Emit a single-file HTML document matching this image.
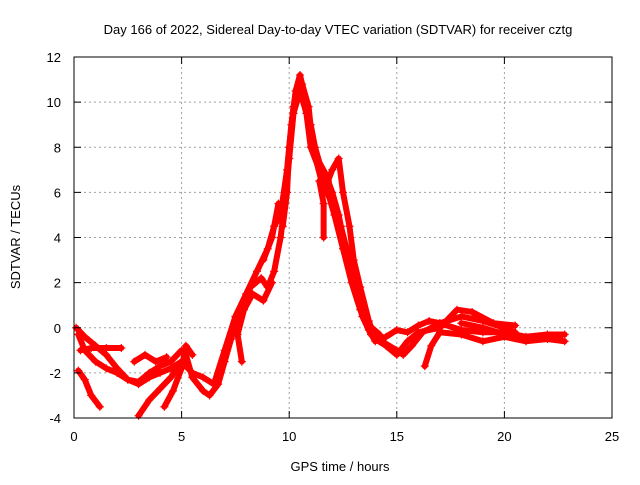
<!DOCTYPE html>
<html><head><meta charset="utf-8"><style>
body{margin:0;background:#fff;font-family:"Liberation Sans",sans-serif;}
svg text{font-family:"Liberation Sans",sans-serif;font-size:13px;fill:#000;}
</style></head><body>
<svg id="chart" width="640" height="480" viewBox="0 0 640 480">
<rect width="640" height="480" fill="#fff"/>
<text x="338" y="34" text-anchor="middle">Day 166 of 2022, Sidereal Day-to-day VTEC variation (SDTVAR) for receiver cztg</text>
<g id="grid"></g>
<g id="series"></g>
<rect x="74" y="57" width="538" height="361" fill="none" stroke="#000" stroke-width="1"/>
<g id="ticks"></g>
<text x="340" y="471" text-anchor="middle">GPS time / hours</text>
<text x="20" y="237" text-anchor="middle" transform="rotate(-90 20 237)">SDTVAR / TECUs</text>
</svg>
<script>
const xTicks=[0,5,10,15,20,25];
const yTicks=[-4,-2,0,2,4,6,8,10,12];
const trackA=[[0.2,-0.3],[0.5,-1],[1,-1.5],[1.5,-1.8],[2,-2],[2.5,-2.3],[3,-2.5],[3.5,-2.2],[4,-2],[4.5,-1.8],[5,-1.5],[5.5,-2],[6,-2.2],[6.5,-2.5],[7,-1],[7.5,0.5],[8,1.5],[8.5,2.5],[9,3.5],[9.3,4.5],[9.6,5],[9.9,7],[10.1,9],[10.3,10.5],[10.5,11.2],[10.8,10],[11,8.5],[11.3,7.5],[11.7,6.8],[12,6],[12.3,5],[12.6,3.5],[13,2],[13.4,0.5],[13.8,-0.3],[14.3,-0.6],[15,-1],[15.3,-1.2],[15.7,-0.8],[16.2,-0.2],[17,0.2],[18,0.5],[19,0.3],[20,0],[20.5,-0.2]];
const trackB=[[0.1,0],[0.5,-0.4],[1,-0.8],[1.5,-1.2],[2,-1.8],[2.5,-2.3],[3,-2.4],[3.5,-2],[4,-1.7],[4.5,-1.5],[5,-1],[5.2,-1.2],[5.5,-2.2],[6,-2.8],[6.3,-3],[6.7,-2.5],[7,-1.5],[7.3,-0.5],[7.7,0.8],[8.2,1.8],[8.7,2.2],[9,1.8],[9.3,2.5],[9.6,4],[9.8,5.5],[10,7.5],[10.2,9.5],[10.5,10.5],[10.8,9.5],[11,8],[11.4,7],[11.8,6],[12.1,5],[12.5,3.5],[12.9,2],[13.3,0.8],[13.7,-0.1],[14,-0.6],[14.5,-0.4],[15,-0.1],[15.5,-0.2],[16,0.1],[16.5,0.3],[17,0.2],[18,-0.1],[19,-0.2],[20,-0.2],[21,-0.4],[22,-0.3],[22.8,-0.3]];
const trackC=[[0.2,-1.9],[0.5,-2.3],[0.8,-3],[1.2,-3.5]];
const trackD=[[0.3,-1],[0.8,-0.9],[1.5,-0.9],[2.2,-0.9]];
const trackE=[[3,-3.9],[3.5,-3.2],[4,-2.7],[4.5,-2.2],[5,-1.5]];
const trackF=[[4.2,-3.5],[4.6,-2.8],[5,-1.8],[5.2,-0.8],[5.5,-1.2]];
const trackG=[[2.8,-1.5],[3.3,-1.2],[3.8,-1.5],[4.3,-1.3]];
const trackH=[[7.8,-1.5],[7.6,-0.3],[7.9,0.8],[8.3,1.5],[8.8,1.2],[9.2,2]];
const trackI=[[10.7,10],[11,9],[11.2,8],[11.5,7],[11.8,6.5],[12,7],[12.3,7.5],[12.5,6],[12.8,4.5],[13,3],[13.3,1.8],[13.7,0.3],[14,-0.5],[14.5,-0.8],[15,-1.2],[15.5,-0.6],[16,-0.2],[17,0],[17.8,0.8],[18.5,0.7],[19.5,0.2],[20.5,0.1]];
const trackJ=[[11.4,6.5],[11.6,5.5],[11.6,4]];
const trackK=[[16.3,-1.7],[16.6,-0.8],[17,-0.2],[18,-0.3],[19,-0.6],[20,-0.4],[21,-0.6],[22,-0.5],[22.8,-0.6]];
const trackL=[[8.8,3],[9.2,4],[9.5,5.5],[9.7,4.5],[9.9,6],[10,8],[10.2,9.8],[10.4,10.2],[10.6,10.8],[10.9,9.8],[11.1,8],[11.5,6.5],[12,5.5],[12.4,4.5],[12.8,3],[13.2,1.2],[13.6,0.2],[14.2,-0.3]];
const trackM=[[18,0.2],[19,0],[20,-0.3],[21,-0.5],[22,-0.4],[22.6,-0.5]];
const tracks=[trackA,trackB,trackC,trackD,trackE,trackF,trackG,trackH,trackI,trackJ,trackK,trackL,trackM];
const NS="http://www.w3.org/2000/svg";
const X0=74,X1=612,Y0=418,Y1=57;
function sx(v){return X0+(v-0)/(25-0)*(X1-X0);}
function sy(v){return Y0-(v+4)/(16)*(Y0-Y1);}
function mk(t,a,p){const e=document.createElementNS(NS,t);for(const k in a)e.setAttribute(k,a[k]);p.appendChild(e);return e;}
const grid=document.getElementById('grid'),ticks=document.getElementById('ticks'),ser=document.getElementById('series');
xTicks.forEach(v=>{const x=sx(v);
 if(v>0&&v<25){const g=mk('line',{x1:x,x2:x,y1:Y1,y2:Y0,stroke:'#a0a0a0','stroke-dasharray':'2,3'},grid);}
 mk('line',{x1:x,x2:x,y1:Y0,y2:Y0-7,stroke:'#000'},ticks);mk('line',{x1:x,x2:x,y1:Y1,y2:Y1+7,stroke:'#000'},ticks);
 const t=mk('text',{x:x,y:Y0+23,'text-anchor':'middle'},ticks);t.textContent=v;
 
 });
yTicks.forEach(v=>{const y=sy(v);
 if(v>-4&&v<12){const g=mk('line',{x1:X0,x2:X1,y1:y,y2:y,stroke:'#a0a0a0','stroke-dasharray':'2,3'},grid);}
 mk('line',{x1:X0,x2:X0+7,y1:y,y2:y,stroke:'#000'},ticks);mk('line',{x1:X1,x2:X1-7,y1:y,y2:y,stroke:'#000'},ticks);
 const t=mk('text',{x:X0-13,y:y+5,'text-anchor':'end'},ticks);t.textContent=v;
 
 });
tracks.forEach((tr,i)=>{
 const pl=mk('polyline',{points:tr.map(p=>sx(p[0])+','+sy(p[1])).join(' '),fill:'none',stroke:'#ff0000','stroke-width':6,'stroke-linejoin':'round','stroke-linecap':'round'},ser);
 
 
 tr.forEach(p=>{const x=sx(p[0]),y=sy(p[1]);
  const m=mk('path',{d:`M${x-4},${y}H${x+4}M${x},${y-4}V${y+4}`,stroke:'#ff0000','stroke-width':1.2},ser);
  
  });
});
</script>
</body></html>
